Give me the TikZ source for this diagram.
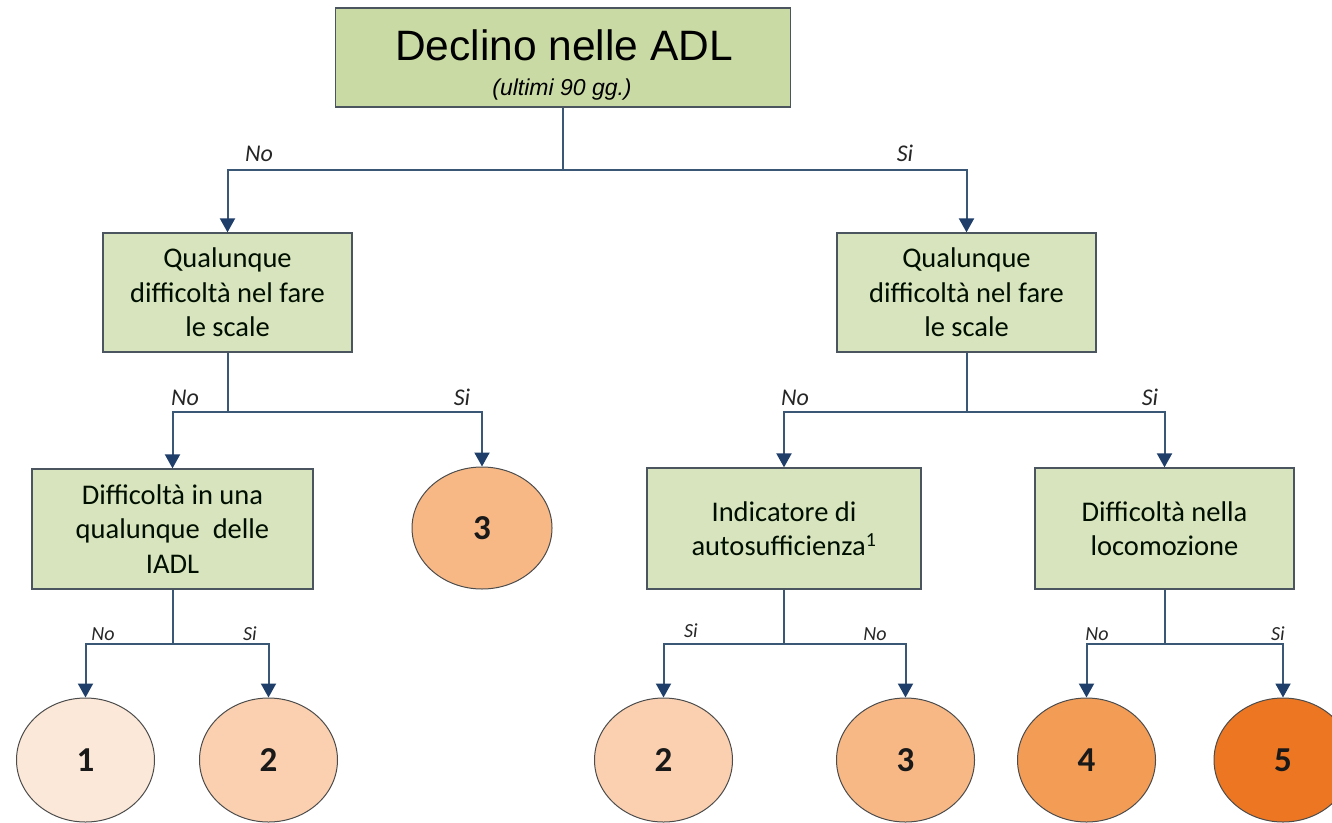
\documentclass[tikz,border=0pt]{standalone}
\usepackage{fontspec}
\setmainfont{Carlito}
\newfontfamily\titlefont{Liberation Sans}
\usetikzlibrary{arrows.meta,shapes.geometric}

\definecolor{topgreen}{HTML}{C9DAA4}
\definecolor{boxgreen}{HTML}{D7E4BD}
\definecolor{edgegray}{HTML}{4A5560}
\definecolor{linkblue}{HTML}{3A5876}
\definecolor{tipblue}{HTML}{1F3E6A}
\definecolor{gradeone}{HTML}{FCE8D8}
\definecolor{gradetwo}{HTML}{FAD0B0}
\definecolor{gradethree}{HTML}{F7B886}
\definecolor{gradefour}{HTML}{F39C56}
\definecolor{gradefive}{HTML}{EC7622}

\tikzset{
  qbox/.style={draw=edgegray, line width=1.3pt, fill=boxgreen, align=center,
    inner sep=0pt, text=black!85!green!40!black,
    font=\fontsize{28.5}{34.5}\selectfont},
  grade/.style={ellipse, draw=black!70, line width=1pt, inner sep=0pt,
    minimum width=138pt, minimum height=124pt,
    font=\bfseries\fontsize{35}{35}\selectfont, text=black!90},
  link/.style={draw=linkblue, line width=2pt,
    -{Triangle[width=15pt,length=14pt,color=tipblue]}},
  answer/.style={anchor=base, inner sep=0pt, text=black!85,
    font=\itshape\fontsize{24}{24}\selectfont},
  smallanswer/.style={answer, font=\itshape\fontsize{20}{20}\selectfont}
}

\begin{document}
\begin{tikzpicture}[x=1pt,y=-1pt]
\useasboundingbox (0,0) rectangle (1332,822);

% root question
\node[draw=edgegray, line width=1.3pt, fill=topgreen, inner sep=0pt,
      minimum width=455pt, minimum height=99pt] (root) at (563,57.5) {};
\node[anchor=base, inner sep=0pt, font=\titlefont\fontsize{42.5}{42.5}\selectfont]
      (roottitle) at (564,60) {Declino nelle ADL};
\node[anchor=base, inner sep=0pt, font=\titlefont\itshape\fontsize{23}{23}\selectfont]
      (rootsub) at (562,95) {(ultimi 90 gg.)};

% second level
\node[qbox, minimum width=249pt, minimum height=119pt] (stairsno) at (227.5,292.5)
  {Qualunque\\difficoltà nel fare\\le scale};
\node[qbox, minimum width=259pt, minimum height=119pt] (stairsyes) at (966.5,292.5)
  {Qualunque\\difficoltà nel fare\\le scale};

% third level
\node[qbox, minimum width=281pt, minimum height=120pt] (iadl) at (172.5,529)
  {Difficoltà in una\\qualunque~~delle\\IADL};
\node[grade, fill=gradethree, minimum width=140pt, minimum height=122pt] (gthreea) at (482,528) {3};
\node[qbox, minimum width=274pt, minimum height=121pt] (selfcare) at (784,528.5)
  {Indicatore di\\autosufficienza\textsuperscript{1}};
\node[qbox, minimum width=259pt, minimum height=121pt] (walking) at (1164.5,528.5)
  {Difficoltà nella\\locomozione};

% outcome grades
\node[grade, fill=gradeone]   (gone)    at (85.5,760)  {1};
\node[grade, fill=gradetwo]   (gtwoa)   at (268.5,760) {2};
\node[grade, fill=gradetwo]   (gtwob)   at (663.5,760) {2};
\node[grade, fill=gradethree] (gthreeb) at (905.5,760) {3};
\node[grade, fill=gradefour]  (gfour)   at (1086.5,760) {4};
\node[grade, fill=gradefive]  (gfive)   at (1283,760)  {5};

% branch levels
\coordinate (barone) at (0,170);
\coordinate (bartwo) at (0,412);
\coordinate (barthree) at (0,644);

% connectors
\draw[link] (root.south) -- (root.south |- barone) -| (stairsno.north);
\draw[link] (root.south) -- (root.south |- barone) -| (stairsyes.north);

\draw[link] (stairsno.south) -- (stairsno.south |- bartwo) -| (iadl.north);
\draw[link] (stairsno.south) -- (stairsno.south |- bartwo) -| (gthreea.north);
\draw[link] (stairsyes.south) -- (stairsyes.south |- bartwo) -| (selfcare.north);
\draw[link] (stairsyes.south) -- (stairsyes.south |- bartwo) -| (walking.north);

\draw[link] (iadl.south) -- (iadl.south |- barthree) -| (gone.north);
\draw[link] (iadl.south) -- (iadl.south |- barthree) -| (gtwoa.north);
\draw[link] (selfcare.south) -- (selfcare.south |- barthree) -| (gtwob.north);
\draw[link] (selfcare.south) -- (selfcare.south |- barthree) -| (gthreeb.north);
\draw[link] (walking.south) -- (walking.south |- barthree) -| (gfour.north);
\draw[link] (walking.south) -- (walking.south |- barthree) -| (gfive.north);

% answer labels
\node[answer] (ansa) at (259,161) {No};
\node[answer] (ansb) at (905,161) {Si};
\node[answer] (ansc) at (185,405) {No};
\node[answer] (ansd) at (462,405) {Si};
\node[answer] (anse) at (795,405) {No};
\node[answer] (ansf) at (1150,405) {Si};
\node[smallanswer] (ansg) at (103,640) {No};
\node[smallanswer] (ansh) at (250,640) {Si};
\node[smallanswer] (ansi) at (691,637) {Si};
\node[smallanswer] (ansj) at (875,640) {No};
\node[smallanswer] (ansk) at (1097,640) {No};
\node[smallanswer] (ansl) at (1278,640) {Si};
\end{tikzpicture}
\end{document}
